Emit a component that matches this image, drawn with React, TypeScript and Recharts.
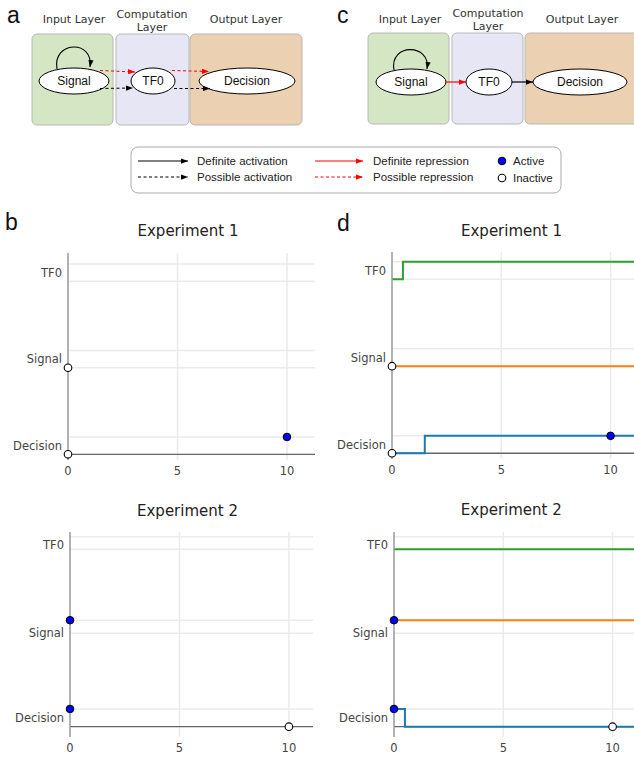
import React from 'react';
import { ComposedChart, Line, Scatter, XAxis, YAxis, ReferenceLine } from 'recharts';

// ---- data ----
const nodeNames = ['Decision', 'Signal', 'TF0'];
const nodeLevels = [0, 5, 10];
const timeTicks = [0, 5, 10];
const timeGrid = [5, 10];

const exp1TickValues = [0.5, 5.5, 10.5];
const exp1GridValues = [1, 5, 6, 10, 11];
const exp2TickValues = [0.5, 5.27, 10.25];
const exp2GridValues = [1, 5.27, 6, 10, 10.7];

// trajectories (panel d)
const exp1TF0Times = [0, 0.5, 11.3];
const exp1TF0States = [0, 1, 1];
const exp1SignalTimes = [0, 11.3];
const exp1SignalStates = [0, 0];
const exp1DecisionTimes = [0, 1.5, 11.3];
const exp1DecisionStates = [0, 1, 1];

const exp2TF0Times = [0, 11.3];
const exp2TF0States = [0, 0];
const exp2SignalTimes = [0, 11.3];
const exp2SignalStates = [1, 1];
const exp2DecisionTimes = [0, 0.5, 11.3];
const exp2DecisionStates = [1, 0, 0];

// observations (panels b and d)
const exp1ObsNodes = ['Signal', 'Decision', 'Decision'];
const exp1ObsTimes = [0, 0, 10];
const exp1ObsStates = [0, 0, 1];
const exp2ObsNodes = ['Signal', 'Decision', 'Decision'];
const exp2ObsTimes = [0, 0, 10];
const exp2ObsStates = [1, 1, 0];

const seriesColors = { TF0: '#2ca02c', Signal: '#ff7f0e', Decision: '#1f77b4' };

const level = (node: string) => nodeLevels[nodeNames.indexOf(node)];
const traj = (times: number[], states: number[], node: string) =>
  times.map((t, i) => ({ t, y: level(node) + states[i] }));
const obs = (nodes: string[], times: number[], states: number[], want: number) =>
  nodes
    .map((n, i) => ({ t: times[i], y: level(n) + states[i], s: states[i] }))
    .filter((p) => p.s === want);

const FONT = 'DejaVu Sans, Verdana, sans-serif';
const ARIAL = 'Liberation Sans, Arial, sans-serif';

const ActiveDot = (p: any) => (
  <circle cx={p.cx} cy={p.cy} r={3.8} fill="#0000ff" stroke="#000" strokeWidth={1} />
);
const InactiveDot = (p: any) => (
  <circle cx={p.cx} cy={p.cy} r={3.8} fill="#fff" stroke="#000" strokeWidth={1.1} />
);

function TrajChart(props: any) {
  const { left, top, width, height, yAxisWidth, xMax, yDomain, tickValues, gridValues, lines, active, inactive } = props;
  return (
    <div style={{ position: 'absolute', left, top, width, height }}>
      <ComposedChart width={width} height={height} margin={{ top: 5, right: 5, bottom: 0, left: 0 }}>
        <XAxis
          type="number"
          dataKey="t"
          domain={[0, xMax]}
          ticks={timeTicks}
          interval={0}
          axisLine={false}
          tickLine={false}
          tickSize={0}
          tickMargin={7}
          height={25}
          tick={{ fontSize: 11.5, fill: '#444', fontFamily: FONT }}
        />
        <YAxis
          type="number"
          dataKey="y"
          domain={yDomain}
          ticks={tickValues}
          interval={0}
          width={yAxisWidth}
          axisLine={{ stroke: '#999', strokeWidth: 1.5 }}
          tickLine={false}
          tickSize={0}
          tickMargin={6}
          tickFormatter={(v: number, i: number) => nodeNames[i]}
          tick={{ fontSize: 11.5, fill: '#444', fontFamily: FONT }}
        />
        {gridValues.map((v: number) => (
          <ReferenceLine key={'h' + v} y={v} stroke="#ebebeb" strokeWidth={1.5} />
        ))}
        {timeGrid.map((v: number) => (
          <ReferenceLine key={'v' + v} x={v} stroke="#ebebeb" strokeWidth={1.5} />
        ))}
        <ReferenceLine y={0} stroke="#666" strokeWidth={1.3} />
        {lines.map((l: any, i: number) => (
          <Line
            key={i}
            data={l.data}
            dataKey="y"
            type="stepAfter"
            stroke={l.color}
            strokeWidth={2}
            dot={false}
            activeDot={false}
            isAnimationActive={false}
          />
        ))}
        <Scatter data={inactive} dataKey="y" shape={InactiveDot} isAnimationActive={false} />
        <Scatter data={active} dataKey="y" shape={ActiveDot} isAnimationActive={false} />
      </ComposedChart>
    </div>
  );
}

function Diagram() {
  return (
    <svg width={634} height={758} style={{ position: 'absolute', left: 0, top: 0 }}>
      <defs>
        <marker id="ab" viewBox="0 0 8 6" refX="8" refY="3" markerWidth="7" markerHeight="5.5" orient="auto" markerUnits="userSpaceOnUse">
          <path d="M0,0 L8,3 L0,6 z" fill="#000" />
        </marker>
        <marker id="ar" viewBox="0 0 8 6" refX="8" refY="3" markerWidth="7" markerHeight="5.5" orient="auto" markerUnits="userSpaceOnUse">
          <path d="M0,0 L8,3 L0,6 z" fill="#ff0000" />
        </marker>
      </defs>

      {/* panel letters */}
      <text x={7} y={23} fontSize={23} fontFamily={ARIAL} fill="#111">a</text>
      <text x={337} y={23} fontSize={23} fontFamily={ARIAL} fill="#111">c</text>
      <text x={5} y={230} fontSize={23} fontFamily={ARIAL} fill="#111">b</text>
      <text x={337} y={231} fontSize={23} fontFamily={ARIAL} fill="#111">d</text>

      {/* panel a */}
      <g fontFamily={FONT} fontSize={11} fill="#333" textAnchor="middle">
        <text x={74} y={23}>Input Layer</text>
        <text x={152} y={18}>Computation</text>
        <text x={152} y={31}>Layer</text>
        <text x={246} y={23}>Output Layer</text>
      </g>
      <rect x={32} y={34} width={81} height={91} rx={5} fill="#d5e6c4" stroke="#b8b8b8" />
      <rect x={116} y={34} width={73} height={91} rx={5} fill="#e6e6f4" stroke="#b8b8b8" />
      <rect x={190} y={34} width={112} height={91} rx={5} fill="#ebd0b2" stroke="#b8b8b8" />
      <ellipse cx={74} cy={81} rx={35} ry={13} fill="#fff" stroke="#000" />
      <ellipse cx={153} cy={81} rx={22} ry={13} fill="#fff" stroke="#000" />
      <ellipse cx={247} cy={81} rx={48} ry={13} fill="#fff" stroke="#000" />
      <path d="M57,69 C52,41 94,39 90,67" fill="none" stroke="#000" strokeWidth={1.1} markerEnd="url(#ab)" />
      <path d="M100,70.5 L135,72" fill="none" stroke="#ff0000" strokeWidth={1} strokeDasharray="3,2.5" markerEnd="url(#ar)" />
      <path d="M172,70.5 L209,71.5" fill="none" stroke="#ff0000" strokeWidth={1} strokeDasharray="3,2.5" markerEnd="url(#ar)" />
      <path d="M100,88.5 L133,88" fill="none" stroke="#000" strokeWidth={1} strokeDasharray="3,2.5" markerEnd="url(#ab)" />
      <path d="M174,88.5 L210,88.5" fill="none" stroke="#000" strokeWidth={1} strokeDasharray="3,2.5" markerEnd="url(#ab)" />
      <g fontFamily={ARIAL} fontSize={12} fill="#111" textAnchor="middle">
        <text x={74} y={85}>Signal</text>
        <text x={153} y={85}>TF0</text>
        <text x={247} y={85}>Decision</text>
      </g>

      {/* panel c */}
      <g fontFamily={FONT} fontSize={11} fill="#333" textAnchor="middle">
        <text x={410} y={23}>Input Layer</text>
        <text x={488} y={17}>Computation</text>
        <text x={488} y={30}>Layer</text>
        <text x={582} y={23}>Output Layer</text>
      </g>
      <rect x={368} y={33} width={81} height={91} rx={5} fill="#d5e6c4" stroke="#b8b8b8" />
      <rect x={452} y={33} width={71} height={91} rx={5} fill="#e6e6f4" stroke="#b8b8b8" />
      <rect x={525} y={33} width={125} height={91} rx={5} fill="#ebd0b2" stroke="#b8b8b8" />
      <ellipse cx={411} cy={82} rx={35} ry={13} fill="#fff" stroke="#000" />
      <ellipse cx={489} cy={82} rx={23} ry={13} fill="#fff" stroke="#000" />
      <ellipse cx={580} cy={82} rx={47} ry={13} fill="#fff" stroke="#000" />
      <path d="M394,70 C389,43 431,43 427,69" fill="none" stroke="#000" strokeWidth={1.1} markerEnd="url(#ab)" />
      <path d="M446,82 L466,82" fill="none" stroke="#ff0000" strokeWidth={1.2} markerEnd="url(#ar)" />
      <path d="M512,82 L533,82" fill="none" stroke="#000" strokeWidth={1.2} markerEnd="url(#ab)" />
      <g fontFamily={ARIAL} fontSize={12} fill="#111" textAnchor="middle">
        <text x={411} y={86}>Signal</text>
        <text x={489} y={86}>TF0</text>
        <text x={580} y={86}>Decision</text>
      </g>

      {/* legend */}
      <rect x={131} y={147} width={430} height={46} rx={7} fill="#fff" stroke="#aaa" />
      <path d="M138,161 L188,161" stroke="#000" strokeWidth={1.1} markerEnd="url(#ab)" />
      <path d="M138,177 L188,177" stroke="#000" strokeWidth={1.1} strokeDasharray="3,2.5" markerEnd="url(#ab)" />
      <path d="M315,161 L363,161" stroke="#ff0000" strokeWidth={1.1} markerEnd="url(#ar)" />
      <path d="M315,177 L363,177" stroke="#ff0000" strokeWidth={1.1} strokeDasharray="3,2.5" markerEnd="url(#ar)" />
      <circle cx={502} cy={161} r={3.8} fill="#0000ff" stroke="#000" strokeWidth={1} />
      <circle cx={502} cy={178} r={3.8} fill="#fff" stroke="#000" strokeWidth={1.1} />
      <g fontFamily={ARIAL} fontSize={11.5} fill="#222">
        <text x={197} y={165}>Definite activation</text>
        <text x={197} y={181}>Possible activation</text>
        <text x={373} y={165}>Definite repression</text>
        <text x={373} y={181}>Possible repression</text>
        <text x={513} y={165}>Active</text>
        <text x={513} y={182}>Inactive</text>
      </g>

      {/* chart titles */}
      <g fontFamily={FONT} fontSize={15} fill="#222" textAnchor="middle">
        <text x={188} y={236}>Experiment 1</text>
        <text x={511.5} y={236}>Experiment 1</text>
        <text x={187.5} y={516}>Experiment 2</text>
        <text x={511.3} y={515}>Experiment 2</text>
      </g>
    </svg>
  );
}

export default function App() {
  const d1Lines = [
    { data: traj(exp1TF0Times, exp1TF0States, 'TF0'), color: seriesColors.TF0 },
    { data: traj(exp1SignalTimes, exp1SignalStates, 'Signal'), color: seriesColors.Signal },
    { data: traj(exp1DecisionTimes, exp1DecisionStates, 'Decision'), color: seriesColors.Decision },
  ];
  const d2Lines = [
    { data: traj(exp2TF0Times, exp2TF0States, 'TF0'), color: seriesColors.TF0 },
    { data: traj(exp2SignalTimes, exp2SignalStates, 'Signal'), color: seriesColors.Signal },
    { data: traj(exp2DecisionTimes, exp2DecisionStates, 'Decision'), color: seriesColors.Decision },
  ];
  const a1 = obs(exp1ObsNodes, exp1ObsTimes, exp1ObsStates, 1);
  const i1 = obs(exp1ObsNodes, exp1ObsTimes, exp1ObsStates, 0);
  const a2 = obs(exp2ObsNodes, exp2ObsTimes, exp2ObsStates, 1);
  const i2 = obs(exp2ObsNodes, exp2ObsTimes, exp2ObsStates, 0);
  return (
    <div style={{ position: 'absolute', left: 0, top: 0, width: 634, height: 758, overflow: 'hidden', background: '#fff' }}>
      <Diagram />
      <TrajChart left={0} top={248} width={320} height={237} yAxisWidth={68} xMax={11.28} yDomain={[-0.33, 11.63]}
        tickValues={exp1TickValues} gridValues={exp1GridValues} lines={[]} active={a1} inactive={i1} />
      <TrajChart left={320} top={247} width={324} height={237} yAxisWidth={72} xMax={11.3} yDomain={[-0.33, 11.56]}
        tickValues={exp1TickValues} gridValues={exp1GridValues} lines={d1Lines} active={a1} inactive={i1} />
      <TrajChart left={0} top={527} width={318} height={235} yAxisWidth={70} xMax={11.1} yDomain={[-0.58, 10.97]}
        tickValues={exp2TickValues} gridValues={exp2GridValues} lines={[]} active={a2} inactive={i2} />
      <TrajChart left={320} top={527} width={326} height={235} yAxisWidth={74} xMax={11.3} yDomain={[-0.58, 10.97]}
        tickValues={exp2TickValues} gridValues={exp2GridValues} lines={d2Lines} active={a2} inactive={i2} />
    </div>
  );
}
